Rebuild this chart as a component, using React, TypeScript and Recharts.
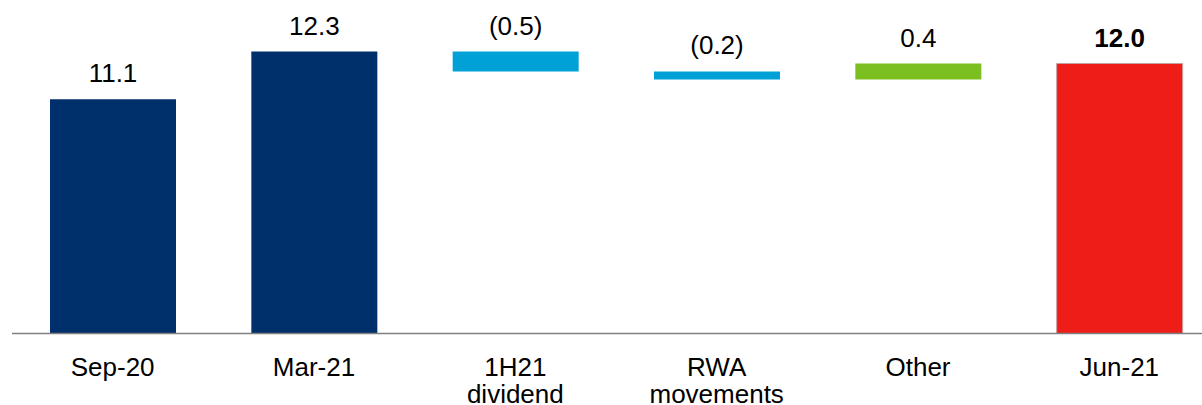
import React from 'react';
import { BarChart, Bar, XAxis, YAxis, Cell } from 'recharts';

// Categories on the x axis ("\n" = line break in the tick)
const categories = ['Sep-20', 'Mar-21', '1H21\ndividend', 'RWA\nmovements', 'Other', 'Jun-21'];
// Values: totals are absolute, steps are changes
const values = [11.1, 12.3, -0.5, -0.2, 0.4, 12.0];
const kinds = ['total', 'total', 'step', 'step', 'step', 'total'];
const valueLabels = ['11.1', '12.3', '(0.5)', '(0.2)', '0.4', '12.0'];
const colors = ['#00306B', '#00306B', '#00A1D7', '#00A1D7', '#7CBF21', '#EE1D17'];

const FONT = '"Liberation Sans", Arial, sans-serif';

// build [low, high] ranges for the waterfall
let running = 0;
const data = categories.map((name, i) => {
    let low: number;
    let high: number;
    if (kinds[i] === 'total') {
        running = values[i];
        low = 0;
        high = values[i];
    } else {
        const next = running + values[i];
        low = Math.min(running, next);
        high = Math.max(running, next);
        running = next;
    }
    return { name, range: [low, high] };
});

const renderLabel = (props: any) => {
    const { x, y, width, index } = props;
    return (
        <text
            x={x + width / 2}
            y={y - 17}
            textAnchor="middle"
            fontFamily={FONT}
            fontSize={26}
            fontWeight={index === 5 ? 'bold' : 'normal'}
            fill="#000"
        >
            {valueLabels[index]}
        </text>
    );
};

const renderTick = (props: any) => {
    const { x, y, payload } = props;
    const lines = String(payload.value).split('\n');
    return (
        <text x={x} y={y} textAnchor="middle" fontFamily={FONT} fontSize={26} fill="#000">
            {lines.map((line, i) => (
                <tspan key={i} x={x} y={y + 42 + i * 27}>
                    {line}
                </tspan>
            ))}
        </text>
    );
};

export default function App() {
    return (
        <div style={{ position: 'absolute', left: 0, top: 0, width: 1202, height: 405, overflow: 'hidden', background: '#fff' }}>
            <BarChart width={1220} height={405} data={data} margin={{ top: 0, right: 0, left: 12, bottom: 0 }}>
                <XAxis
                    dataKey="name"
                    height={71.5}
                    interval={0}
                    tickLine={false}
                    tickSize={0}
                    tickMargin={0}
                    axisLine={{ stroke: '#808080', strokeWidth: 1.3 }}
                    tick={renderTick}
                />
                <YAxis hide width={0} domain={[5.2, 13.6]} allowDataOverflow />
                <Bar dataKey="range" barSize={126} isAnimationActive={false} label={renderLabel}>
                    {data.map((d, i) => (
                        <Cell
                            key={d.name}
                            fill={colors[i]}
                            stroke={i === 5 ? '#C8A0A0' : 'none'}
                            strokeWidth={i === 5 ? 1 : 0}
                        />
                    ))}
                </Bar>
            </BarChart>
        </div>
    );
}
